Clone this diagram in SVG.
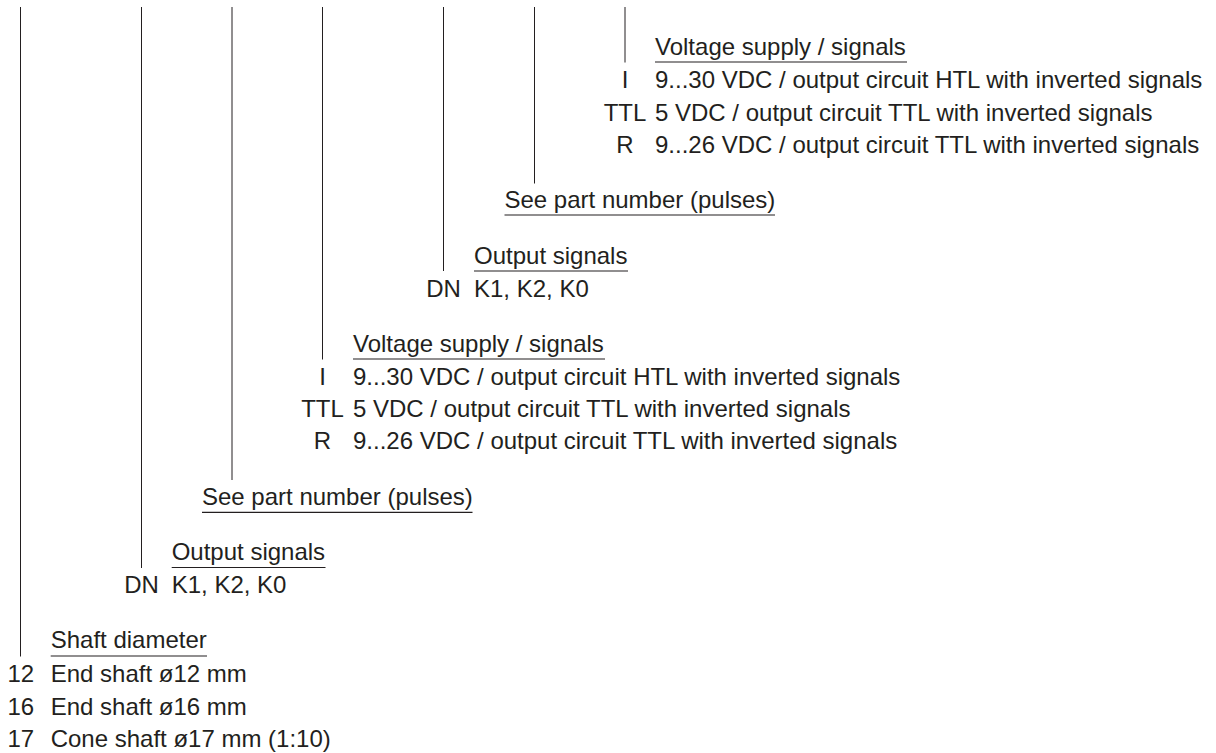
<svg xmlns="http://www.w3.org/2000/svg" width="1216" height="753" viewBox="0 0 1216 753">
<style>
text{font-family:"Liberation Sans",Arial,sans-serif;font-size:24px;fill:#231f20}
.c{text-anchor:middle}
.ul{stroke:#231f20;stroke-width:1.2}
.conn line{stroke:#231f20;stroke-width:1}
</style>
<rect width="1216" height="753" fill="#fff"/>
<g id="connectors" class="conn">
<line x1="20.5" y1="7" x2="20.5" y2="656.5"/>
<line x1="141.5" y1="7" x2="141.5" y2="568"/>
<line x1="232" y1="7" x2="232" y2="480"/>
<line x1="322.5" y1="7" x2="322.5" y2="359.5"/>
<line x1="443.5" y1="7" x2="443.5" y2="271"/>
<line x1="534.5" y1="7" x2="534.5" y2="183.5"/>
<line x1="625" y1="7" x2="625" y2="62.5"/>
</g>
<g id="voltage-upper">
<text x="655" y="55">Voltage supply / signals</text>
<line class="ul" x1="655" y1="62" x2="907" y2="62"/>
<text class="c" x="625" y="88.3">I</text><text x="655" y="88.3">9...30 VDC / output circuit HTL with inverted signals</text>
<text class="c" x="625" y="120.5">TTL</text><text x="655" y="120.5">5 VDC / output circuit TTL with inverted signals</text>
<text class="c" x="625" y="152.5">R</text><text x="655" y="152.5">9...26 VDC / output circuit TTL with inverted signals</text>
</g>
<g id="pulses-upper">
<text x="504.5" y="208">See part number (pulses)</text>
<line class="ul" x1="504.5" y1="215" x2="775" y2="215"/>
</g>
<g id="output-upper">
<text x="474" y="264">Output signals</text>
<line class="ul" x1="474" y1="271" x2="628" y2="271"/>
<text class="c" x="443.5" y="296.7">DN</text><text x="474" y="296.7">K1, K2, K0</text>
</g>
<g id="voltage-lower">
<text x="353" y="351.7">Voltage supply / signals</text>
<line class="ul" x1="353" y1="359" x2="605" y2="359"/>
<text class="c" x="322.5" y="385">I</text><text x="353" y="385">9...30 VDC / output circuit HTL with inverted signals</text>
<text class="c" x="322.5" y="417">TTL</text><text x="353" y="417">5 VDC / output circuit TTL with inverted signals</text>
<text class="c" x="322.5" y="449">R</text><text x="353" y="449">9...26 VDC / output circuit TTL with inverted signals</text>
</g>
<g id="pulses-lower">
<text x="202" y="505">See part number (pulses)</text>
<line class="ul" x1="202" y1="512.3" x2="472.5" y2="512.3"/>
</g>
<g id="output-lower">
<text x="171.7" y="560">Output signals</text>
<line class="ul" x1="171.7" y1="567.5" x2="325.5" y2="567.5"/>
<text class="c" x="141.5" y="593.3">DN</text><text x="171.7" y="593.3">K1, K2, K0</text>
</g>
<g id="shaft">
<text x="50.7" y="648.3">Shaft diameter</text>
<line class="ul" x1="50.7" y1="656" x2="207" y2="656"/>
<text class="c" x="20.8" y="681.7">12</text><text x="50.7" y="681.7">End shaft ø12 mm</text>
<text class="c" x="20.8" y="715">16</text><text x="50.7" y="715">End shaft ø16 mm</text>
<text class="c" x="20.8" y="747">17</text><text x="50.7" y="747">Cone shaft ø17 mm (1:10)</text>
</g>
</svg>
